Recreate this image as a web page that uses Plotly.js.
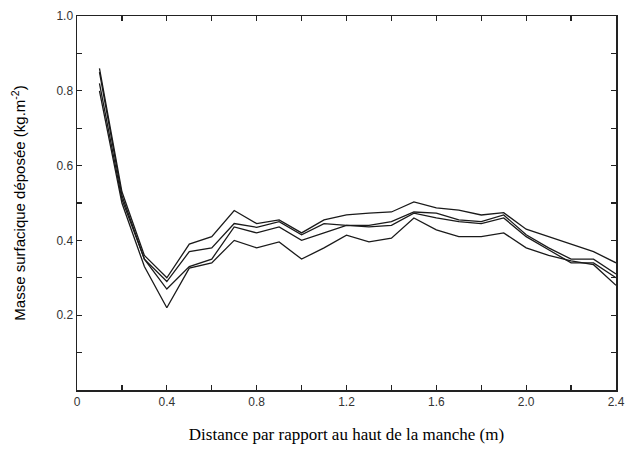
<!DOCTYPE html>
<html>
<head>
<meta charset="utf-8">
<script src="https://cdn.plot.ly/plotly-3.0.1.min.js"></script>
<style>html,body{margin:0;padding:0;background:#fff}#chart{width:627px;height:450px}</style>
</head>
<body>
<div id="chart"></div>
<script>
const distance = [0.1,0.2,0.3,0.4,0.5,0.6,0.7,0.8,0.9,1.0,1.1,1.2,1.3,1.4,1.5,1.6,1.7,1.8,1.9,2.0,2.1,2.2,2.3,2.4];
const serieA = [0.86,0.53,0.36,0.30,0.39,0.41,0.48,0.445,0.455,0.42,0.455,0.468,0.473,0.476,0.503,0.487,0.481,0.468,0.474,0.43,0.41,0.39,0.37,0.34];
const serieB = [0.85,0.52,0.35,0.29,0.37,0.38,0.445,0.435,0.45,0.415,0.445,0.44,0.44,0.45,0.476,0.473,0.455,0.45,0.468,0.415,0.38,0.35,0.35,0.31];
const serieC = [0.82,0.51,0.35,0.27,0.33,0.35,0.436,0.42,0.436,0.40,0.42,0.44,0.436,0.44,0.473,0.46,0.45,0.445,0.46,0.41,0.375,0.34,0.34,0.30];
const serieD = [0.80,0.50,0.33,0.22,0.326,0.34,0.40,0.38,0.396,0.35,0.38,0.414,0.396,0.406,0.46,0.428,0.41,0.41,0.42,0.38,0.36,0.345,0.335,0.28];
const xTickVals = [0,0.4,0.8,1.2,1.6,2.0,2.4];
const xTickText = ['0','0.4','0.8','1.2','1.6','2.0','2.4'];
const yTickVals = [0.2,0.4,0.6,0.8,1.0];
const yTickText = ['0.2','0.4','0.6','0.8','1.0'];

const series = [serieA, serieB, serieC, serieD];
const traces = series.map((s, i) => ({
  x: distance, y: s, type: 'scatter', mode: 'lines',
  line: {color: '#1a1a1a', width: 1.3},
  showlegend: false, hoverinfo: 'skip', name: 'série ' + (i+1)
}));

const tickFont = {family: 'Liberation Sans, Arial, sans-serif', size: 12, color: '#333'};
const layout = {
  width: 627, height: 450,
  margin: {l: 77, r: 11, t: 16, b: 60},
  paper_bgcolor: '#fff', plot_bgcolor: '#fff',
  showlegend: false,
  xaxis: {
    range: [0, 2.4], tickvals: xTickVals, ticktext: xTickText,
    ticks: 'inside', ticklen: 5, tickwidth: 1.3, tickcolor: '#222',
    minor: {dtick: 0.2, tick0: 0, ticks: 'inside', ticklen: 5, tickwidth: 1.3, tickcolor: '#222', showgrid: false},
    showline: true, linecolor: '#222', linewidth: 1.5, mirror: 'ticks',
    showgrid: false, zeroline: false, tickfont: tickFont,
    title: {text: 'Distance par rapport au haut de la manche (m)',
            font: {family: 'Liberation Serif, Times New Roman, serif', size: 17, color: '#000'},
            standoff: 20}
  },
  yaxis: {
    range: [0, 1.0], tickvals: yTickVals, ticktext: yTickText,
    ticks: 'inside', ticklen: 5, tickwidth: 1.3, tickcolor: '#222',
    minor: {dtick: 0.1, tick0: 0, ticks: 'inside', ticklen: 5, tickwidth: 1.3, tickcolor: '#222', showgrid: false},
    showline: true, linecolor: '#222', linewidth: 1.5, mirror: 'ticks',
    showgrid: false, zeroline: false, tickfont: tickFont,
    title: {text: 'Masse surfacique déposée (kg.m<sup>-2</sup>)',
            font: {family: 'Liberation Sans, Arial, sans-serif', size: 15, color: '#000'},
            standoff: 27}
  }
};
Plotly.newPlot('chart', traces, layout, {staticPlot: true, displayModeBar: false});
</script>
</body>
</html>
